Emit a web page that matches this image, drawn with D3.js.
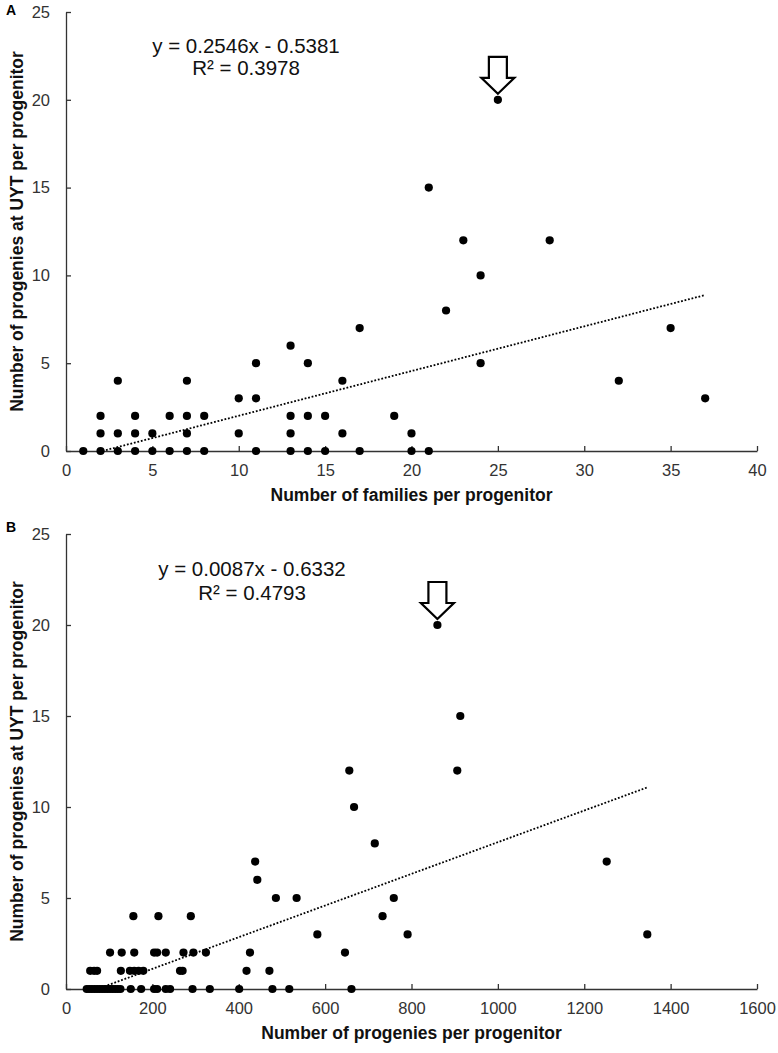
<!DOCTYPE html>
<html>
<head>
<meta charset="utf-8">
<script src="https://cdn.jsdelivr.net/npm/d3@7"></script>
<style>
  html, body { margin: 0; padding: 0; background: #fff; }
  svg { display: block; font-family: "Liberation Sans", Arial, sans-serif; }
</style>
</head>
<body>
<svg id="chart" width="778" height="1053"></svg>
<script>
// ---------- Panel A data: families per progenitor vs progenies at UYT ----------
const famX = [1,2,3,4,5,6,7,8,11,13,14,15,17,20,21,
              2,3,4,5,7,10,13,16,20,
              2,4,6,7,8,13,14,15,19,
              10,11,37,
              3,7,16,32,
              11,14,24,
              13,
              17,35,
              22,
              24,
              23,28,
              21,
              25];
const famY = [0,0,0,0,0,0,0,0,0,0,0,0,0,0,0,
              1,1,1,1,1,1,1,1,1,
              2,2,2,2,2,2,2,2,2,
              3,3,3,
              4,4,4,4,
              5,5,5,
              6,
              7,7,
              8,
              10,
              12,12,
              15,
              20];

// ---------- Panel B data: progenies per progenitor vs progenies at UYT ----------
const progX = [48,54,60,66,72,78,84,90,96,102,108,114,120,126,
               150,174,204,211,231,241,293,333,401,478,517,661,
               56,65,72,127,148,158,168,179,264,270,418,471,
               102,129,158,204,211,231,272,295,324,426,646,
               582,791,1346,
               156,214,289,733,
               486,534,759,
               443,
               438,1252,
               715,
               667,
               656,906,
               913,
               860];
const progY = [0,0,0,0,0,0,0,0,0,0,0,0,0,0,
               0,0,0,0,0,0,0,0,0,0,0,0,
               1,1,1,1,1,1,1,1,1,1,1,1,
               2,2,2,2,2,2,2,2,2,2,2,
               3,3,3,
               4,4,4,4,
               5,5,5,
               6,
               7,7,
               8,
               10,
               12,12,
               15,
               20];

// Trendline coefficients (as printed on the chart)
const trendA = [0.2546, -0.5381];
const trendB = [0.0087, -0.6332];
const eqA = ["y = 0.2546x - 0.5381", "R\u00B2 = 0.3978"];
const eqB = ["y = 0.0087x - 0.6332", "R\u00B2 = 0.4793"];

// Tick labels
const yTicks = [0, 5, 10, 15, 20, 25];
const xTicksA = [0, 5, 10, 15, 20, 25, 30, 35, 40];
const xTicksB = [0, 200, 400, 600, 800, 1000, 1200, 1400, 1600];

// Highlighted point (arrow) per panel
const highlightA = [25, 20];
const highlightB = [860, 20];

const svg = d3.select("#chart");

function panel(cfg) {
  const x = d3.scaleLinear().domain(cfg.xDomain).range([66, 757]);
  const y = d3.scaleLinear().domain([0, 25]).range([cfg.y0, cfg.y25]);
  const g = svg.append("g");

  // Panel letter
  g.append("text").attr("x", 6).attr("y", cfg.letterY)
    .attr("font-size", 14).attr("font-weight", "bold").attr("fill", "#000")
    .text(cfg.letter);

  // Axes
  const yAxis = d3.axisLeft(y).tickValues(yTicks).tickFormat(d3.format("d"))
    .tickSizeInner(-5).tickSizeOuter(0).tickPadding(16);
  const xAxis = d3.axisBottom(x).tickValues(cfg.xTicks).tickFormat(d3.format("d"))
    .tickSizeInner(-5).tickSizeOuter(0).tickPadding(13.5);

  const ya = g.append("g").attr("transform", `translate(66,0)`).call(yAxis);
  const xa = g.append("g").attr("transform", `translate(0,${cfg.y0})`).call(xAxis);
  [ya, xa].forEach(a => {
    a.selectAll("path, line").attr("stroke", "#333").attr("stroke-width", 1.3);
    a.selectAll("text").attr("font-size", 16.5).attr("fill", "#333")
      .attr("font-family", "'Liberation Sans', Arial, sans-serif");
  });

  // Trendline (dotted), clipped at y = 0, spanning to max x
  const xs = cfg.data.map(d => d[0]);
  const xStart = Math.max(d3.min(xs), -cfg.trend[1] / cfg.trend[0]);
  const xEnd = d3.max(xs);
  const lineData = [xStart, xEnd].map(v => [v, cfg.trend[0] * v + cfg.trend[1]]);
  g.append("path")
    .attr("d", d3.line().x(d => x(d[0])).y(d => y(d[1]))(lineData))
    .attr("fill", "none").attr("stroke", "#000").attr("stroke-width", 1.8)
    .attr("stroke-dasharray", "1.8,1.8");

  // Points
  g.append("g").selectAll("circle").data(cfg.data).join("circle")
    .attr("cx", d => x(d[0])).attr("cy", d => y(d[1])).attr("r", 4.1)
    .attr("fill", "#000");

  // Equation text
  g.append("text").attr("x", cfg.eqX).attr("y", cfg.eqY1)
    .attr("text-anchor", "middle").attr("font-size", 20.5).attr("fill", "#111")
    .text(cfg.eq[0]);
  g.append("text").attr("x", cfg.eqX).attr("y", cfg.eqY2)
    .attr("text-anchor", "middle").attr("font-size", 20.5).attr("fill", "#111")
    .text(cfg.eq[1]);

  // Arrow above highlighted point
  const px = x(cfg.hl[0]), py = y(cfg.hl[1]);
  const tip = py - 6, headTop = py - 22, top = py - 43;
  const arrow = [
    [px - 9, top], [px + 9, top], [px + 9, headTop], [px + 16.5, headTop],
    [px, tip], [px - 16.5, headTop], [px - 9, headTop]
  ];
  g.append("path").attr("d", d3.line()(arrow) + "Z")
    .attr("fill", "#fff").attr("stroke", "#000").attr("stroke-width", 2.2)
    .attr("stroke-linejoin", "miter");

  // Axis titles
  g.append("text").attr("x", 411.5).attr("y", cfg.y0 + 50)
    .attr("text-anchor", "middle").attr("font-size", 17.5).attr("font-weight", "bold")
    .attr("fill", "#111").text(cfg.xTitle);
  const cy = (cfg.y0 + cfg.y25) / 2;
  g.append("text").attr("transform", `translate(23,${cy}) rotate(-90)`)
    .attr("text-anchor", "middle").attr("font-size", 17.5).attr("font-weight", "bold")
    .attr("fill", "#111").text("Number of progenies at UYT per progenitor");
}

panel({
  letter: "A", letterY: 15,
  xDomain: [0, 40], xTicks: xTicksA, y0: 451, y25: 12,
  data: famX.map((v, i) => [v, famY[i]]), trend: trendA,
  eq: eqA, eqX: 246, eqY1: 53, eqY2: 75, hl: highlightA,
  xTitle: "Number of families  per progenitor"
});
panel({
  letter: "B", letterY: 532,
  xDomain: [0, 1600], xTicks: xTicksB, y0: 989, y25: 534,
  data: progX.map((v, i) => [v, progY[i]]), trend: trendB,
  eq: eqB, eqX: 252, eqY1: 576, eqY2: 600, hl: highlightB,
  xTitle: "Number of progenies per progenitor"
});
</script>
</body>
</html>
